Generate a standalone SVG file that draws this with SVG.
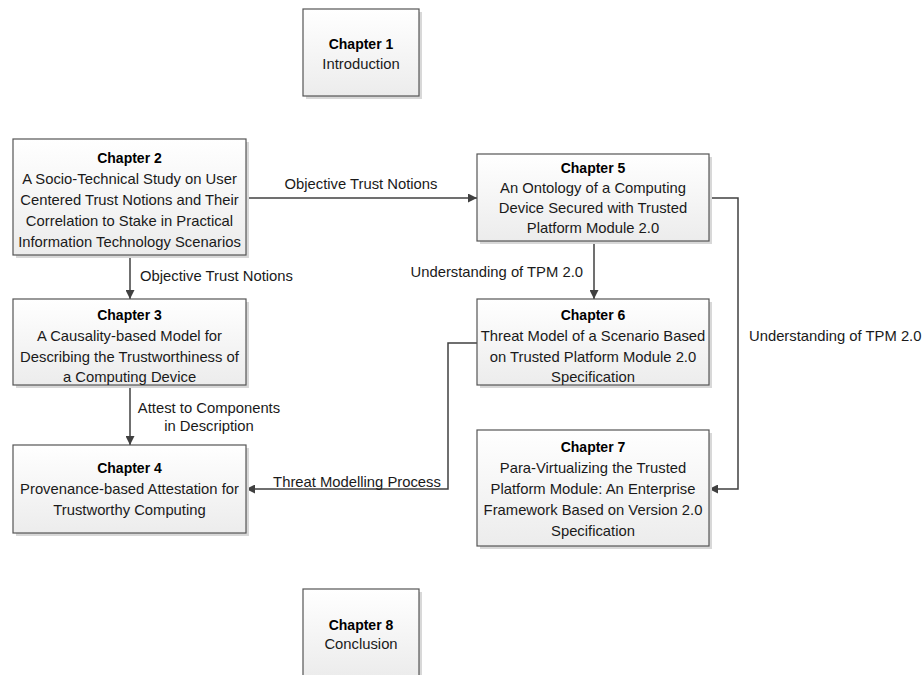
<svg xmlns="http://www.w3.org/2000/svg" width="923" height="675" viewBox="0 0 923 675">
  <defs>
    <linearGradient id="boxFill" x1="0" y1="0" x2="0" y2="1">
      <stop offset="0" stop-color="#ffffff"/>
      <stop offset="1" stop-color="#ececec"/>
    </linearGradient>
    <marker id="arrow" viewBox="0 0 10 10" refX="10" refY="5" markerWidth="10" markerHeight="9" markerUnits="userSpaceOnUse" orient="auto">
      <path d="M0,0 L10,5 L0,10 z" fill="#404040"/>
    </marker>
  </defs>
  <style>
    .shadow { fill: #d8d8d8; }
    .box { fill: url(#boxFill); stroke: #555555; stroke-width: 1.2; }
    text { font-family: "Liberation Sans", Arial, sans-serif; font-size: 14.8px; fill: #1a1a1a; text-anchor: middle; }
    .title { font-weight: bold; font-size: 14px; fill: #000000; }
    .conn { fill: none; stroke: #404040; stroke-width: 1.5; }
  </style>
  <rect width="923" height="675" fill="#ffffff"/>

  <!-- connectors and their labels -->
  <g id="connectors">
    <path class="conn" d="M246,198 H477" marker-end="url(#arrow)"/>
    <path class="conn" d="M130,255 V299" marker-end="url(#arrow)"/>
    <path class="conn" d="M130,385 V445" marker-end="url(#arrow)"/>
    <path class="conn" d="M594,241 V299" marker-end="url(#arrow)"/>
    <path class="conn" d="M709,198 H738 V489 H709" marker-end="url(#arrow)"/>
    <path class="conn" d="M477,343 H448 V489 H246" marker-end="url(#arrow)"/>
    <text x="361" y="189">Objective Trust Notions</text>
    <text x="140" y="281" style="text-anchor:start">Objective Trust Notions</text>
    <text x="583" y="277" style="text-anchor:end">Understanding of TPM 2.0</text>
    <text x="209" y="413">Attest to Components</text>
    <text x="209" y="431">in Description</text>
    <text x="357" y="487">Threat Modelling Process</text>
    <text x="749" y="341" style="text-anchor:start">Understanding of TPM 2.0</text>
  </g>

  <g id="chapter1">
    <rect class="shadow" x="306" y="12" width="116" height="87"/>
    <rect class="box" x="303" y="9" width="116" height="87"/>
    <text class="title" x="361" y="49">Chapter 1</text>
    <text x="361" y="69">Introduction</text>
  </g>

  <g id="chapter2">
    <rect class="shadow" x="16" y="142" width="233" height="116"/>
    <rect class="box" x="13" y="139" width="233" height="116"/>
    <text class="title" x="129.5" y="163">Chapter 2</text>
    <text x="129.5" y="184">A Socio-Technical Study on User</text>
    <text x="129.5" y="205">Centered Trust Notions and Their</text>
    <text x="129.5" y="226">Correlation to Stake in Practical</text>
    <text x="129.5" y="247">Information Technology Scenarios</text>
  </g>

  <g id="chapter3">
    <rect class="shadow" x="16" y="302" width="233" height="86"/>
    <rect class="box" x="13" y="299" width="233" height="86"/>
    <text class="title" x="129.5" y="320">Chapter 3</text>
    <text x="129.5" y="341">A Causality-based Model for</text>
    <text x="129.5" y="362">Describing the Trustworthiness of</text>
    <text x="129.5" y="382">a Computing Device</text>
  </g>

  <g id="chapter4">
    <rect class="shadow" x="16" y="448" width="233" height="88"/>
    <rect class="box" x="13" y="445" width="233" height="88"/>
    <text class="title" x="129.5" y="473">Chapter 4</text>
    <text x="129.5" y="494">Provenance-based Attestation for</text>
    <text x="129.5" y="515">Trustworthy Computing</text>
  </g>

  <g id="chapter5">
    <rect class="shadow" x="480" y="157" width="232" height="87"/>
    <rect class="box" x="477" y="154" width="232" height="87"/>
    <text class="title" x="593" y="173">Chapter 5</text>
    <text x="593" y="193">An Ontology of a Computing</text>
    <text x="593" y="213">Device Secured with Trusted</text>
    <text x="593" y="233">Platform Module 2.0</text>
  </g>

  <g id="chapter6">
    <rect class="shadow" x="480" y="302" width="232" height="86"/>
    <rect class="box" x="477" y="299" width="232" height="86"/>
    <text class="title" x="593" y="320">Chapter 6</text>
    <text x="593" y="341">Threat Model of a Scenario Based</text>
    <text x="593" y="362">on Trusted Platform Module 2.0</text>
    <text x="593" y="382">Specification</text>
  </g>

  <g id="chapter7">
    <rect class="shadow" x="480" y="433" width="232" height="116"/>
    <rect class="box" x="477" y="430" width="232" height="116"/>
    <text class="title" x="593" y="452">Chapter 7</text>
    <text x="593" y="473">Para-Virtualizing the Trusted</text>
    <text x="593" y="494">Platform Module: An Enterprise</text>
    <text x="593" y="515">Framework Based on Version 2.0</text>
    <text x="593" y="536">Specification</text>
  </g>

  <g id="chapter8">
    <rect class="shadow" x="306" y="592" width="116" height="87"/>
    <rect class="box" x="303" y="589" width="116" height="87"/>
    <text class="title" x="361" y="630">Chapter 8</text>
    <text x="361" y="649">Conclusion</text>
  </g>
</svg>
